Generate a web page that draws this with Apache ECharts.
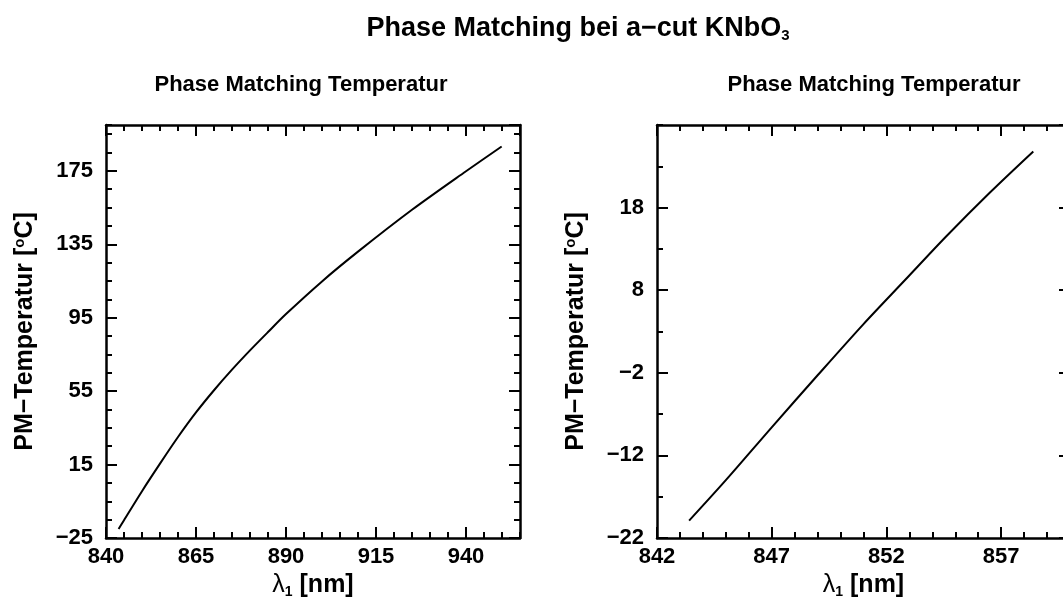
<!DOCTYPE html>
<html>
<head>
<meta charset="utf-8">
<script src="https://cdn.jsdelivr.net/npm/echarts@6/dist/echarts.min.js"></script>
<style>
  html, body { margin: 0; padding: 0; background: #fff; }
  #main { width: 1063px; height: 601px; }
</style>
</head>
<body>
<div id="main"></div>
<script>
// linke Grafik: ganzer Bereich
const leftLambda = [843.5, 845, 850, 855, 860, 865, 870, 875, 880, 885, 890, 900, 910, 925, 940, 949.9];
const leftTemp = [-20.1, -15.3, 0.5, 15.5, 30.0, 43.4, 55.5, 66.7, 77.2, 87.2, 97.0, 114.8, 131.0, 153.8, 174.8, 188.3];
const leftXTicks = [840, 865, 890, 915, 940];
const leftYTicks = [-25, 15, 55, 95, 135, 175];

// rechte Grafik: Ausschnitt
const rightLambda = [843.4, 845.0, 847.0, 849.0, 851.0, 852.8, 854.6, 856.5, 858.4];
const rightTemp = [-19.9, -15.0, -8.6, -2.3, 3.9, 9.2, 14.5, 19.8, 24.8];
const rightXTicks = [842, 847, 852, 857];
const rightYTicks = [-22, -12, -2, 8, 18];

const FONT = 'Liberation Sans, Arial, Helvetica, sans-serif';
const BLACK = '#000';

function zip(xs, ys) {
  return xs.map((x, i) => [x, ys[i]]);
}

function fmt(ticks) {
  return v => (ticks.indexOf(Math.round(v * 1000) / 1000) >= 0 ? String(v).replace('-', '\u2212') : '');
}

// vier Achsen je Richtung: Haupt + Neben, beide Seiten (Rahmen mit Ticks innen)
function axes(dim, gridIndex, min, max, major, minor, ticks, name, nameGap, nameStyle) {
  const sides = dim === 'x' ? ['bottom', 'top'] : ['left', 'right'];
  const out = [];
  sides.forEach((pos, k) => {
    out.push({
      type: 'value', gridIndex, position: pos, min, max, interval: major,
      axisLine: { show: true, onZero: false, lineStyle: { color: BLACK, width: 2.5 } },
      axisTick: { show: true, inside: true, length: 11, lineStyle: { color: BLACK, width: 2 } },
      axisLabel: {
        show: k === 0, formatter: fmt(ticks), showMaxLabel: false,
        margin: dim === 'x' ? 8 : 13,
        color: BLACK, fontSize: 22, fontWeight: 'bold', fontFamily: FONT
      },
      splitLine: { show: false },
      name: k === 0 ? name : '',
      nameLocation: 'middle',
      nameGap: nameGap,
      nameTextStyle: nameStyle
    });
    out.push({
      type: 'value', gridIndex, position: pos, min, max, interval: minor,
      axisLine: { show: false, onZero: false },
      axisTick: { show: true, inside: true, length: 6, lineStyle: { color: BLACK, width: 2 } },
      axisLabel: { show: false },
      splitLine: { show: false }
    });
  });
  return out;
}

const xNameStyle = {
  color: BLACK, fontFamily: FONT, fontSize: 25, fontWeight: 'bold',
  rich: {
    g: { fontSize: 25, fontWeight: 'normal', fontFamily: FONT, color: BLACK, lineHeight: 27 },
    s: { fontSize: 14, fontWeight: 'bold', fontFamily: FONT, color: BLACK, lineHeight: 10, verticalAlign: 'bottom' },
    n: { fontSize: 25, fontWeight: 'bold', fontFamily: FONT, color: BLACK, lineHeight: 27 }
  }
};
const yNameStyle = {
  color: BLACK, fontFamily: FONT, fontSize: 25, fontWeight: 'bold',
  rich: {
    n: { fontSize: 25, fontWeight: 'bold', fontFamily: FONT, color: BLACK, lineHeight: 27 },
    o: { fontSize: 15, fontWeight: 'bold', fontFamily: FONT, color: BLACK, lineHeight: 11, verticalAlign: 'top' }
  }
};
const xName = '{g|\u03bb}{s|1}{n| [nm]}';
const yName = '{n|PM\u2212Temperatur [}{o|o}{n|C]}';

const xAxes = [].concat(
  axes('x', 0, 840, 955, 25, 5, leftXTicks, xName, 32, xNameStyle),
  axes('x', 1, 842, 860, 5, 1, rightXTicks, xName, 32, xNameStyle)
);
const yAxes = [].concat(
  axes('y', 0, -25, 200, 40, 10, leftYTicks, yName, 67, yNameStyle),
  axes('y', 1, -22, 28, 10, 5, rightYTicks, yName, 67, yNameStyle)
);

const titleStyle = { fill: BLACK, fontFamily: FONT, fontWeight: 'bold', align: 'center', verticalAlign: 'middle' };

const option = {
  backgroundColor: '#fff',
  animation: false,
  grid: [
    { left: 106, top: 125, width: 414, height: 413, containLabel: false, outerBoundsMode: 'none' },
    { left: 657, top: 125, width: 413, height: 413, containLabel: false, outerBoundsMode: 'none' }
  ],
  xAxis: xAxes,
  yAxis: yAxes,
  graphic: [
    {
      type: 'text', x: 578, y: 29,
      style: Object.assign({}, titleStyle, {
        text: 'Phase Matching bei a\u2212cut KNbO{s|3}', fontSize: 27, lineHeight: 29,
        rich: { s: { fontSize: 15, fontWeight: 'bold', fontFamily: FONT, fill: BLACK, lineHeight: 10, verticalAlign: 'bottom' } }
      })
    },
    {
      type: 'text', x: 301, y: 85,
      style: Object.assign({}, titleStyle, { text: 'Phase Matching Temperatur', fontSize: 22 })
    },
    {
      type: 'text', x: 874, y: 85,
      style: Object.assign({}, titleStyle, { text: 'Phase Matching Temperatur', fontSize: 22 })
    }
  ],
  series: [
    {
      type: 'line', xAxisIndex: 0, yAxisIndex: 0,
      data: zip(leftLambda, leftTemp),
      smooth: 0.3, showSymbol: false,
      lineStyle: { color: BLACK, width: 2 }
    },
    {
      type: 'line', xAxisIndex: 4, yAxisIndex: 4,
      data: zip(rightLambda, rightTemp),
      smooth: 0.3, showSymbol: false,
      lineStyle: { color: BLACK, width: 2 }
    }
  ]
};

const chart = echarts.init(document.getElementById('main'), null, { renderer: 'canvas' });
chart.setOption(option);
</script>
</body>
</html>
